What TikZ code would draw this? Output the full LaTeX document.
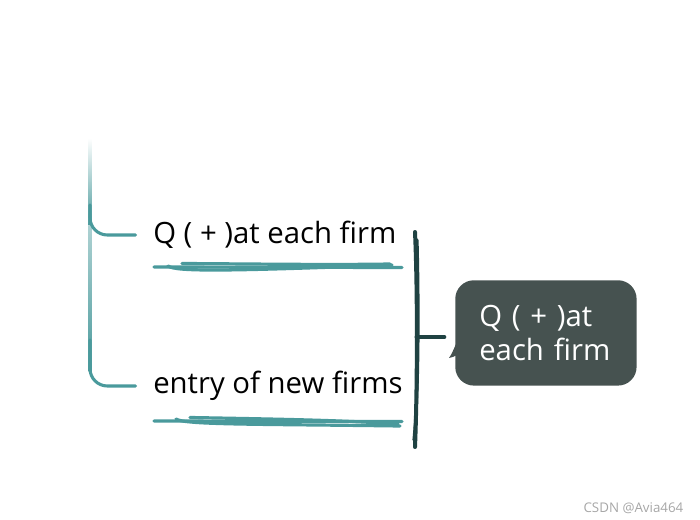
\documentclass[tikz,border=0pt]{standalone}
\usepackage{fontspec}
\setmainfont{Open Sans}[Ligatures=NoCommon]
\usepackage{xcolor}
\usepackage{tikz}
\usetikzlibrary{positioning}

\definecolor{branchteal}{HTML}{4A9A9C}
\definecolor{bracedark}{HTML}{1F4242}
\definecolor{notegray}{HTML}{465250}

\begin{document}
\begin{tikzpicture}[x=0.75pt, y=-0.75pt,
    topic/.style    ={font=\fontsize{22}{26}\selectfont, anchor=west, inner sep=0pt},
    branch/.style   ={draw=branchteal, line width=2.3pt, line cap=round, rounded corners=13pt},
    scribble/.style ={draw=branchteal, line width=2.4pt, line cap=round},
    brace/.style    ={draw=bracedark, line width=3pt, line cap=round},
    note/.style     ={fill=notegray, rounded corners=14pt, text=white, align=left,
                      font=\fontsize{22}{25.5}\selectfont, anchor=north west,
                      minimum width=135pt, minimum height=79pt, text width=100pt, inner xsep=18pt},
    wmark/.style    ={font=\fontsize{10}{12}\selectfont, text=black!35, anchor=east}
  ]
    % page size
    \useasboundingbox (0,0) rectangle (700,520);

    % --- trunk coming from above (fades in) ---
    \shade[top color=white, bottom color=branchteal] (88.6,138) rectangle (91.4,226);
    \shade[top color=branchteal!45, bottom color=branchteal] (88.6,226) rectangle (91.4,372);
    \coordinate (trunkA) at (90,205);
    \coordinate (trunkB) at (90,340);

    % topics
    \node[topic] (qA)    at (153,235) {Q ( + )at each firm};
    \node[topic] (entry) at (153,386) {entry of new firms};

    % branches
    \draw[branch, shorten >=13pt] (trunkA) |- (qA.west);
    \draw[branch, shorten >=13pt] (trunkB) |- (entry.west);

    % hand drawn underlines
    \draw[scribble] (154,267) -- (402,267.5);
    \draw[scribble] (168,266) .. controls (176,272) and (230,271) .. (392,265);
    \draw[scribble] (182,263.5) .. controls (260,264) and (330,265) .. (390,264);
    \draw[scribble] (154,421) -- (402,421.5);
    \draw[scribble] (176,419) .. controls (184,425) and (260,424) .. (400,426);
    \draw[scribble] (190,417.5) .. controls (270,419) and (340,420) .. (398,424);

    % summary brace
    \coordinate (braceT) at (415,232);
    \coordinate (braceB) at (415,447);
    \coordinate (braceM) at (416.5,337);
    \draw[brace] (braceT) .. controls (418,300) and (417,400) .. (braceB);
    \draw[brace, line width=2.4pt] (417,240) .. controls (419,320) and (418,400) .. (414,440);

    % summary note
    \node[note] (sum) at (455,280) {Q ( + )at\\each firm};
    \fill[notegray] (457,342) .. controls (454,348) and (452,354) .. (449,358)
                    .. controls (454,357) and (458,355) .. (460,352) -- cycle;
    \draw[brace] (braceM) -- ([xshift=-8pt]sum.west |- braceM);

    % watermark
    \node[wmark] (wm) at (688,508) {CSDN @Avia464};
\end{tikzpicture}
\end{document}
